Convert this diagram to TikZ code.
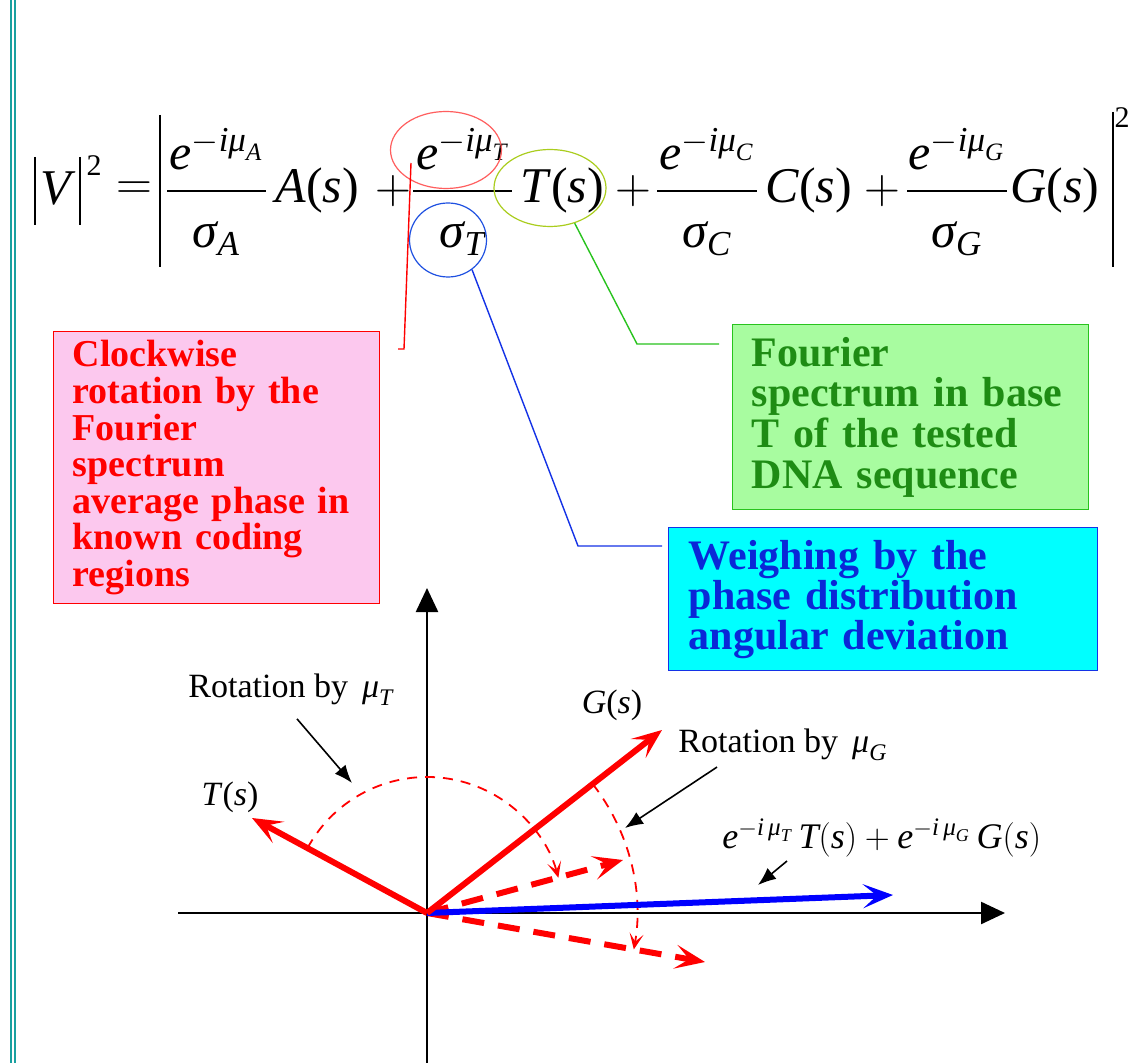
\documentclass[tikz,border=0pt]{standalone}
\usepackage{amsmath}
\usepackage{fontspec}
\setmainfont{Liberation Serif}
\usetikzlibrary{
  positioning,
  arrows.meta,
  calc,
  shapes.geometric
}
\definecolor{pinkfill}{RGB}{252, 200, 238}
\definecolor{greenfill}{RGB}{168, 252, 160}
\definecolor{greenline}{RGB}{40, 195, 30}
\definecolor{greentext}{RGB}{30, 140, 20}
\definecolor{cyanfill}{RGB}{0, 255, 255}
\definecolor{bluetext}{RGB}{10, 40, 215}
\definecolor{blueline}{RGB}{20, 50, 230}
\definecolor{ringred}{RGB}{255, 95, 95}
\definecolor{ringblue}{RGB}{30, 80, 225}
\definecolor{ringolive}{RGB}{170, 205, 30}
\definecolor{tealline}{RGB}{25, 160, 160}
\tikzset{
  eqtxt/.style={font=\fontsize{25}{29}\selectfont, inner sep=0pt},
  eqbar/.style={line width=1.4pt},
  ring/.style={ellipse, draw, line width=0.6pt, inner sep=0pt},
  notebox/.style={
    draw, line width=0.7pt,
    anchor=north west, align=left,
    font=\bfseries\fontsize{21}{20.3}\selectfont
  },
  lead/.style={line width=0.7pt},
  axis/.style={line width=1.2pt, -{Triangle[length=12pt, width=11pt]}},
  vec/.style={line width=3pt, -{Stealth[length=15pt, width=12pt, inset=7pt]}},
  dvec/.style={vec, dash pattern=on 11pt off 7pt},
  thinarc/.style={red, line width=0.9pt, dash pattern=on 5pt off 4pt,
    -{Stealth[length=8pt, width=7pt, inset=4pt]}},
  pointer/.style={line width=0.8pt, -{Latex[length=9pt, width=7pt]}},
  lbl/.style={font=\fontsize{17}{20}\selectfont, inner sep=0pt}
}
% one term of the sum: letter, fraction bar from/to, start of the function
\newcommand{\eqterm}[4]{
  \draw[eqbar] (#2,191) -- (#3,191);
  \node[eqtxt, anchor=base] (num#1) at ({(#2+#3)/2},170) {$\textit{e}^{-\textit{iμ}_{\textit{#1}}}$};
  \node[eqtxt, anchor=base] (den#1) at ({(#2+#3)/2},248) {$\textit{σ}_{\textit{#1}}$};
  \node[eqtxt, anchor=base west] (fn#1) at (#4,203) {\textit{#1}(\textit{s})};
}

\begin{document}
\begin{tikzpicture}[x=0.5pt, y=-0.5pt]
\path[use as bounding box, fill=white] (0,0) rectangle (1129,1063);

% page border
\draw[tealline, line width=0.85pt] (10.8,0) -- (10.8,1063);
\draw[tealline, line width=0.85pt] (14.8,0) -- (14.8,1063);

% |V|^2 = | ... |^2
\draw[eqbar] (35,157) -- (35,225);
\draw[eqbar] (80,157) -- (80,225);
\node[eqtxt, anchor=base] (Vlet) at (58,205) {\textit{V}};
\node[eqtxt, font=\fontsize{15}{15}\selectfont] (Vsq) at (94,166) {2};
\node[eqtxt] (eqsign) at (134,191) {$=$};
\draw[eqbar] (160,115) -- (160,267);
\draw[eqbar] (1113,112) -- (1113,267);
\node[eqtxt, font=\fontsize{15}{15}\selectfont] (sumsq) at (1122,118) {2};

\eqterm{A}{167}{266}{275}
\eqterm{T}{413}{512}{520}
\eqterm{C}{657}{757}{765}
\eqterm{G}{907}{1007}{1010}
\foreach \px/\nm in {393/plusA, 633/plusT, 882/plusC}
  \node[eqtxt] (\nm) at (\px,191) {$+$};

% rings round the T term
\node[ring, draw=ringred, minimum width=55.5pt, minimum height=38.5pt] (ringE) at (446,150) {};
\node[ring, draw=ringblue, minimum width=38.5pt, minimum height=37pt] (ringS) at (448,240) {};
\node[ring, draw=ringolive, minimum width=56pt, minimum height=38.5pt] (ringF) at (550,188) {};

% notes
\node[notebox, draw=red, fill=pinkfill, text=red,
  font=\bfseries\fontsize{19}{18.3}\selectfont,
  minimum width=162.5pt, minimum height=136pt, inner xsep=9.5pt, text width=144pt]
  (rotbox) at (53,331)
  {Clockwise\\rotation by the\\Fourier\\spectrum\\average phase in\\known coding\\regions};
\node[notebox, draw=greenline, fill=greenfill, text=greentext,
  minimum width=178pt, minimum height=92.5pt, inner xsep=9.5pt, text width=159pt]
  (fbox) at (732,324)
  {Fourier\\spectrum in base\\T of the tested\\DNA sequence};
\node[notebox, draw=blueline, fill=cyanfill, text=bluetext,
  font=\bfseries\fontsize{21}{20}\selectfont,
  minimum width=214.5pt, minimum height=71.5pt, inner xsep=10pt, text width=194.5pt]
  (wbox) at (668,527)
  {Weighing by the\\phase distribution\\angular deviation};

% leaders
\coordinate (rbend) at (404,349);
\coordinate (sbend) at (578,546);
\coordinate (fbend) at (637,344);
\draw[lead, red] ($(ringE.center)+(-35,13)$) -- (rbend) -- ++(-6,0);
\draw[lead, blueline, shorten >=3pt] (ringS.-51) -- (sbend) -- (sbend -| wbox.west);
\draw[lead, greenline, shorten >=6.5pt] (ringF.-55) -- (fbend) -- (fbend -| fbox.west);

% phase plane
\coordinate (O) at (427,913);
\coordinate (ytop) at (427,588);
\coordinate (ybot) at (427,1063);
\coordinate (xleft) at (178,913);
\coordinate (xright) at (1005,913);
\draw[axis] (ybot) -- (ytop);
\draw[axis] (xleft) -- (xright);

\coordinate (Tend) at (252,818);
\coordinate (Gend) at (662,730);
\coordinate (Trot) at (623,860);
\coordinate (Grot) at (705,962);
\coordinate (Send) at (893,895);

\draw[thinarc] (O) ++(-151.5:136) arc[start angle=-151.5, end angle=-15, radius=136];
\draw[thinarc] (O) ++(-37.9:210) arc[start angle=-37.9, end angle=10, radius=210];
\draw[dvec, red] (O) -- (Trot);
\draw[dvec, red] (O) -- (Grot);
\draw[vec, blue] (O) -- (Send);
\draw[vec, red] (O) -- (Tend);
\draw[vec, red] (O) -- (Gend);

% labels
\node[lbl] (labT) at (230,797) {\textit{T}(\textit{s})};
\node[lbl] (labG) at (612,705) {\textit{G}(\textit{s})};
\node[lbl, anchor=base west] (rotT) at (188,697) {Rotation by \,$\textit{μ}_{\textit{T}}$};
\node[lbl, anchor=base west] (rotG) at (678,752) {Rotation by \,$\textit{μ}_{\textit{G}}$};
\node[lbl, font=\fontsize{18}{21}\selectfont, anchor=base west] (labS) at (722,848)
  {$\textit{e}^{-\textit{i\,μ}_{\textit{T}}}\,\textit{T}(\textit{s})+\textit{e}^{-\textit{i\,μ}_{\textit{G}}}\,\textit{G}(\textit{s})$};

\coordinate (tarc) at (352,783);
\coordinate (garc) at (625,828);
\coordinate (sarc) at (758,885);
\draw[pointer] ($(rotT.south west)+(109,13)$) -- (tarc);
\draw[pointer] ($(rotG.south west)+(39,6)$) -- (garc);
\draw[pointer] ($(labS.south west)+(65,4)$) -- (sarc);

\end{tikzpicture}
\end{document}
